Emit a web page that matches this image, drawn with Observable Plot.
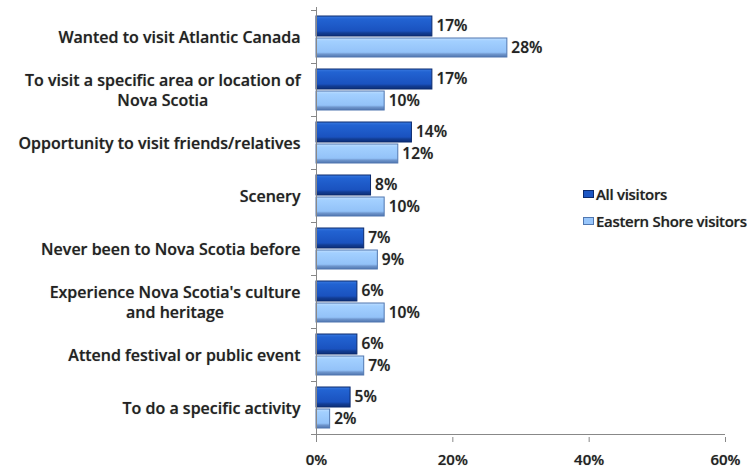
<!DOCTYPE html>
<html>
<head>
<meta charset="utf-8">
<script src="https://cdn.jsdelivr.net/npm/d3@7"></script>
<script src="https://cdn.jsdelivr.net/npm/@observablehq/plot@0.6"></script>
<style>
  html, body { margin: 0; padding: 0; background: #fff; }
  #wrap { position: relative; width: 747px; height: 472px; font-family: "Open Sans", Lato, sans-serif; }
  #legend { position: absolute; left: 583px; top: 180px; font-size: 15px; color: #222; font-weight: 600; letter-spacing: -0.3px; text-shadow: 0 0 1px rgba(0,0,0,0.4); white-space: nowrap; }
  #legend div { display: flex; align-items: center; height: 27px; }
  #legend span.sw { display: inline-block; width: 11px; height: 8px; margin-right: 2px; }
  svg text { text-shadow: 0 0 1px rgba(0,0,0,0.4); }
</style>
</head>
<body>
<div id="wrap"><div id="legend"></div></div>
<script>
const categories = [
  "Wanted to visit Atlantic Canada",
  "To visit a specific area or location of\nNova Scotia",
  "Opportunity to visit friends/relatives",
  "Scenery",
  "Never been to Nova Scotia before",
  "Experience Nova Scotia's culture\nand heritage",
  "Attend festival or public event",
  "To do a specific activity"
];
const allVisitors = [17, 17, 14, 8, 7, 6, 6, 5];
const easternShore = [28, 10, 12, 10, 9, 10, 7, 2];
const seriesNames = ["All visitors", "Eastern Shore visitors"];
const xTicks = [0, 20, 40, 60];

const colors = {dark: "#1c56c4", darkStroke: "#0b2a6e", light: "#98c6fb", lightStroke: "#5077b0"};

const allData = categories.map((c, i) => ({cat: c, v: allVisitors[i]}));
const esData = categories.map((c, i) => ({cat: c, v: easternShore[i]}));

const font = "'Open Sans', Lato, sans-serif";
const plot = Plot.plot({
  width: 747,
  height: 472,
  marginLeft: 316,
  marginRight: 22,
  marginTop: 7,
  marginBottom: 35,
  style: {fontFamily: font, fontSize: "15px", color: "#222", background: "#fff"},
  x: {domain: [0, 60], ticks: xTicks, tickFormat: d => d + "%", label: null},
  y: {domain: categories, padding: 0, label: null},
  marks: [
    Plot.barX(allData, {y: "cat", x: "v", fill: "url(#gDark)", stroke: colors.darkStroke, strokeWidth: 1, insetTop: 6, insetBottom: 27}),
    Plot.barX(esData, {y: "cat", x: "v", fill: "url(#gLight)", stroke: colors.lightStroke, strokeWidth: 1, insetTop: 28, insetBottom: 6}),
    Plot.text(allData, {y: "cat", x: "v", text: d => d.v + "%", dx: 4, dy: -10.5, textAnchor: "start", fontWeight: 600, fill: "#222", fontSize: 15.5}),
    Plot.text(esData, {y: "cat", x: "v", text: d => d.v + "%", dx: 4, dy: 11, textAnchor: "start", fontWeight: 600, fill: "#222", fontSize: 15.5}),
    Plot.ruleX([0], {stroke: "#888"}),
    Plot.axisX({ticks: xTicks, tickFormat: d => d + "%", tickSize: 5, tickPadding: 12, stroke: "#888", fontWeight: 600, fontSize: 15, fill: "#222"}),
    Plot.axisY({tickSize: 0, tickPadding: 16, fontWeight: 600, fontSize: 16, fill: "#222", lineHeight: 1.25})
  ]
});

const svg = d3.select(plot);
// bevel-like gradients for the bars
const defs = svg.insert("defs", ":first-child");
function grad(id, stops) {
  const lg = defs.append("linearGradient").attr("id", id).attr("x1", 0).attr("x2", 0).attr("y1", 0).attr("y2", 1);
  stops.forEach(([o, c]) => lg.append("stop").attr("offset", o).attr("stop-color", c));
}
grad("gDark", [[0, "#3b7be0"], [0.15, "#2263d2"], [0.75, "#1a52bf"], [0.85, "#123d94"], [1, "#0c2f7a"]]);
grad("gLight", [[0, "#c2e0ff"], [0.15, "#a3d0ff"], [0.75, "#93c2f8"], [0.85, "#6e95cc"], [1, "#5177b0"]]);

// x-axis baseline & band boundary ticks, from the library's own scales
const sx = plot.scale("x"), sy = plot.scale("y");
const x0 = sx.apply(0), x60 = sx.apply(60);
const bw = sy.bandwidth;
const g = svg.append("g").attr("stroke", "#888");
const yBottom = sy.apply(categories[categories.length - 1]) + bw;
g.append("line").attr("x1", x0).attr("x2", x60).attr("y1", yBottom + 0.5).attr("y2", yBottom + 0.5);
categories.forEach(c => {
  const yy = sy.apply(c) + 0.5;
  g.append("line").attr("x1", x0 - 5).attr("x2", x0).attr("y1", yy).attr("y2", yy);
});
g.append("line").attr("x1", x0 - 5).attr("x2", x0).attr("y1", yBottom + 0.5).attr("y2", yBottom + 0.5);

document.getElementById("wrap").prepend(plot);

// center multi-line category labels within their right-aligned block
plot.querySelectorAll("text").forEach(t => {
  const tspans = t.querySelectorAll("tspan");
  if (tspans.length > 1) {
    let maxW = 0;
    tspans.forEach(s => { maxW = Math.max(maxW, s.getComputedTextLength()); });
    t.setAttribute("text-anchor", "middle");
    tspans.forEach(s => { s.setAttribute("x", -maxW / 2); });
  }
});

// legend
const legend = d3.select("#legend");
[[seriesNames[0], colors.dark, colors.darkStroke], [seriesNames[1], colors.light, colors.lightStroke]].forEach(([name, f, s]) => {
  const row = legend.append("div");
  row.append("span").attr("class", "sw").style("background", f).style("border", `1px solid ${s}`).style("box-sizing", "border-box");
  row.append("span").text(name);
});
</script>
</body>
</html>
